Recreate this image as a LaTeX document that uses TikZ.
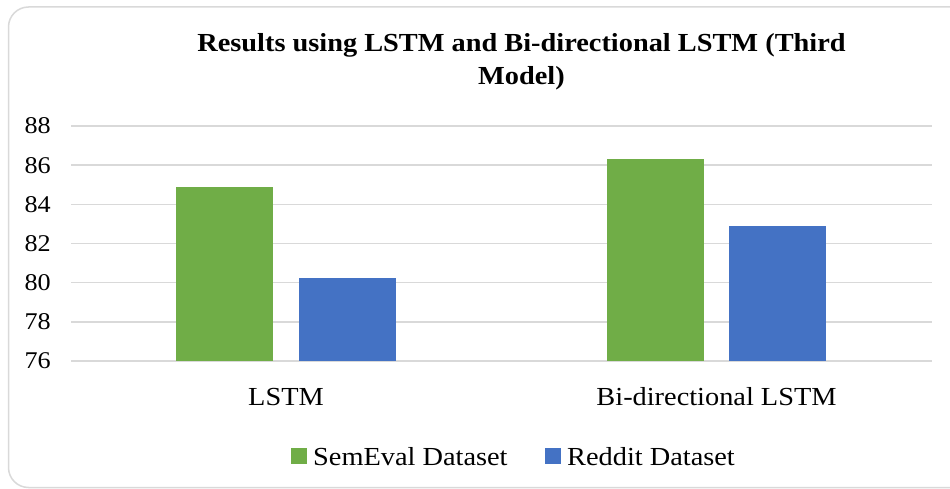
\documentclass[tikz,border=0pt]{standalone}
\usepackage{fontspec}
\setmainfont{Liberation Serif}[FakeStretch=1.09]
\definecolor{gridgray}{RGB}{217,217,217}
\definecolor{framegray}{RGB}{217,217,217}
\definecolor{semgreen}{RGB}{112,173,71}
\definecolor{redblue}{RGB}{68,114,196}
\begin{document}
\begin{tikzpicture}[x=1pt,y=-1pt,
  gridline/.style={draw=gridgray, line width=1.4pt},
  ticklabel/.style={font=\fontsize{24}{28}\selectfont, anchor=east, inner sep=0pt},
  catlabel/.style={font=\fontsize{26}{30}\selectfont, anchor=base, inner sep=0pt},
  titleline/.style={font=\fontsize{26}{30}\selectfont\bfseries, anchor=base, inner sep=0pt},
  legtext/.style={font=\fontsize{26}{30}\selectfont, anchor=base west, inner sep=0pt},
  legkey/.style={minimum size=15.5pt, inner sep=0pt, anchor=north west}]
\useasboundingbox (0,0) rectangle (950,489);
% chart frame: open on the right, where it runs past the page
\draw[framegray, line width=1.5pt, rounded corners=20pt]
  (950,7) -- (8.5,7) -- (8.5,487.5) -- (950,487.5);
% title
\node[titleline] (title1) at (521.5,52) {Results using LSTM and Bi-directional LSTM (Third};
\node[titleline] (title2) at (521.5,85) {Model)};
% value axis: gridlines and tick labels
\foreach \v in {76,78,...,88} {
  \pgfmathsetmacro\yy{361-(\v-76)*19.583}
  \draw[gridline] (71,\yy) -- (932,\yy);
  \node[ticklabel] (tick\v) at (51,\yy) {\v};
}
% bars: SemEval (green) and Reddit (blue)
\fill[semgreen] (176,361) rectangle (273,187.3);
\fill[redblue]  (299,361) rectangle (396,278.0);
\fill[semgreen] (607,361) rectangle (704,159.3);
\fill[redblue]  (729,361) rectangle (826,226.3);
% category labels
\node[catlabel] (catA) at (286,405.5) {LSTM};
\node[catlabel] (catB) at (716.5,405.5) {Bi-directional LSTM};
% legend
\node[legkey, fill=semgreen] (keyA) at (291,448) {};
\node[legtext] (legA) at (313,465) {SemEval Dataset};
\node[legkey, fill=redblue] (keyB) at (545,448) {};
\node[legtext] (legB) at (567,465) {Reddit Dataset};
\end{tikzpicture}
\end{document}
